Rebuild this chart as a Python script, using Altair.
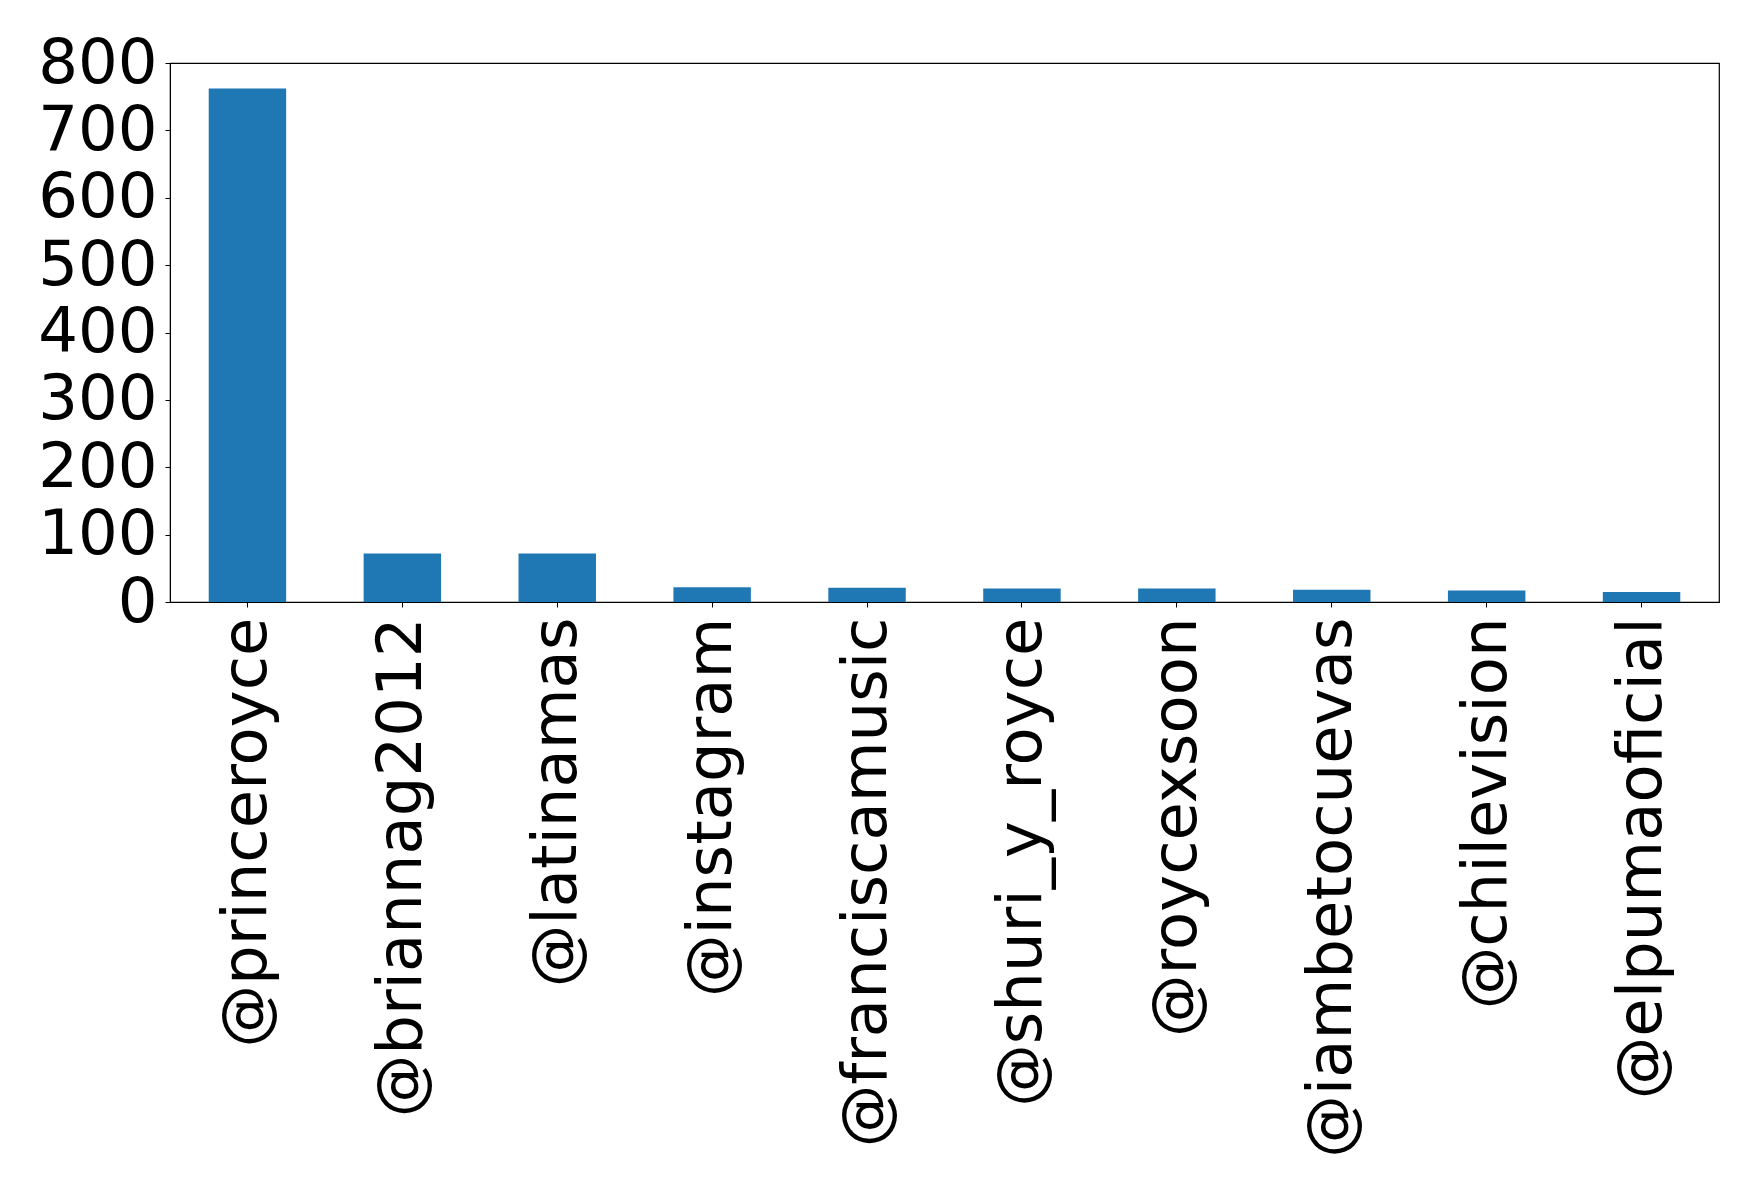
import altair as alt
import pandas as pd

users = ["@princeroyce", "@briannag2012", "@latinamas", "@instagram",
         "@franciscamusic", "@shuri_y_royce", "@roycexsoon", "@iambetocuevas",
         "@chilevision", "@elpumaoficial"]
counts = [762, 72, 72, 22, 21, 20, 20, 18, 17, 15]
y_ticks = [0, 100, 200, 300, 400, 500, 600, 700, 800]

df = pd.DataFrame({"user": users, "count": counts})

chart = alt.Chart(df).mark_bar(color="#1f77b4").encode(
    x=alt.X("user:N", sort=users, title=None,
            scale=alt.Scale(paddingInner=0.5, paddingOuter=0.25),
            axis=alt.Axis(labelAngle=270, labelAlign="right", labelBaseline="middle",
                          labelFont="DejaVu Sans", labelFontSize=62.5, labelColor="black",
                          labelPadding=10, tickSize=5, tickColor="black",
                          domainColor="black", labelOverlap=False, labelLimit=0)),
    y=alt.Y("count:Q", title=None,
            scale=alt.Scale(domain=[0, 800], nice=False),
            axis=alt.Axis(values=y_ticks, grid=False, labelFont="DejaVu Sans",
                          labelFontSize=62.5, labelColor="black", labelPadding=8,
                          tickSize=5, tickColor="black", domainColor="black",
                          labelOverlap=False)),
).properties(
    width=1549, height=539,
    autosize=alt.AutoSizeParams(type="none"),
    padding={"left": 162, "top": 55, "right": 30, "bottom": 560},
).configure_view(stroke="black", strokeWidth=1.2)

chart.save("out.html", embed_options={"renderer": "svg", "actions": False})
